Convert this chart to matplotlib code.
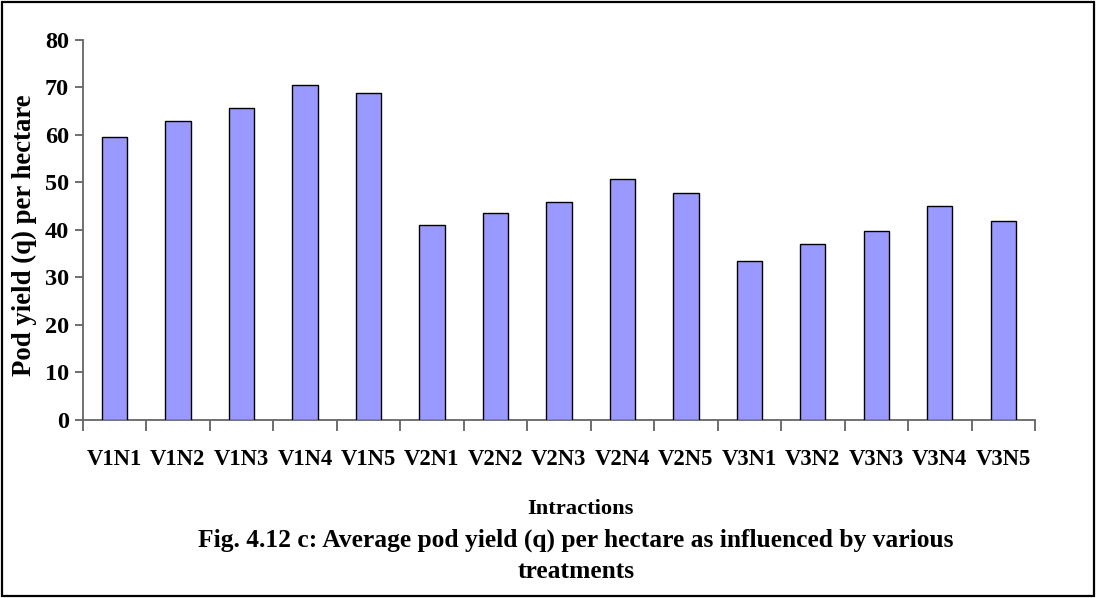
import matplotlib.pyplot as plt
from matplotlib.patches import Rectangle
import numpy as np

# Treatment combinations and average pod yield (q/ha)
treatments = ["V1N1", "V1N2", "V1N3", "V1N4", "V1N5",
              "V2N1", "V2N2", "V2N3", "V2N4", "V2N5",
              "V3N1", "V3N2", "V3N3", "V3N4", "V3N5"]
pod_yield = [59.5, 62.9, 65.6, 70.5, 68.8,
             41.0, 43.6, 45.8, 50.8, 47.8,
             33.5, 36.9, 39.8, 45.0, 41.8]
y_ticks = [0, 10, 20, 30, 40, 50, 60, 70, 80]

plt.rcParams['font.family'] = ['Liberation Serif', 'DejaVu Serif']
plt.rcParams['font.weight'] = 'bold'

W, H = 1096, 598
fig = plt.figure(figsize=(W / 100, H / 100), dpi=100)
ax = fig.add_axes([82.7 / W, 1 - 419.5 / H, (1035 - 82.7) / W, (419.5 - 40) / H])

x = np.arange(len(treatments))
ax.bar(x, pod_yield, width=0.4, color='#9999ff', edgecolor='black', linewidth=1.0, zorder=3)

ax.set_xlim(-0.5, len(treatments) - 0.5)
ax.set_ylim(0, 80)
ax.set_yticks(y_ticks)
ax.set_yticklabels([str(v) for v in y_ticks], fontsize=17.5, fontweight='bold')

# labels at bar centres, tick marks on category boundaries
ax.set_xticks(x)
ax.set_xticklabels(treatments, fontsize=16.3, fontweight='bold')
ax.set_xticks(np.arange(-0.5, len(treatments), 1.0), minor=True)
ax.tick_params(axis='x', which='major', length=0, pad=21)
ax.tick_params(axis='x', which='minor', length=8, width=1.2, color='#555555', direction='out')
ax.tick_params(axis='y', length=6, width=1.2, color='#555555', pad=4)

for side in ['top', 'right']:
    ax.spines[side].set_visible(False)
for side in ['left', 'bottom']:
    ax.spines[side].set_color('#666666')
    ax.spines[side].set_linewidth(1.3)

fig.text(24 / W, 1 - 235 / H, "Pod yield (q) per hectare", rotation=90,
         ha='center', va='center', fontsize=19.3, fontweight='bold')
fig.text(580 / W, 1 - 509 / H, "Intractions", ha='center', va='center',
         fontsize=16.2, fontweight='bold')
fig.text(576 / W, 1 - 540 / H, "Fig. 4.12 c: Average pod yield (q) per hectare as influenced by various",
         ha='center', va='center', fontsize=18.4, fontweight='bold')
fig.text(576 / W, 1 - 572 / H, "treatments", ha='center', va='center',
         fontsize=18.4, fontweight='bold')

# outer frame round the whole figure
fig.patches.append(Rectangle((2 / W, 2 / H), 1 - 4 / W, 1 - 4 / H, transform=fig.transFigure,
                             fill=False, edgecolor='black', linewidth=1.6))

fig.savefig('out.png', dpi=100)
